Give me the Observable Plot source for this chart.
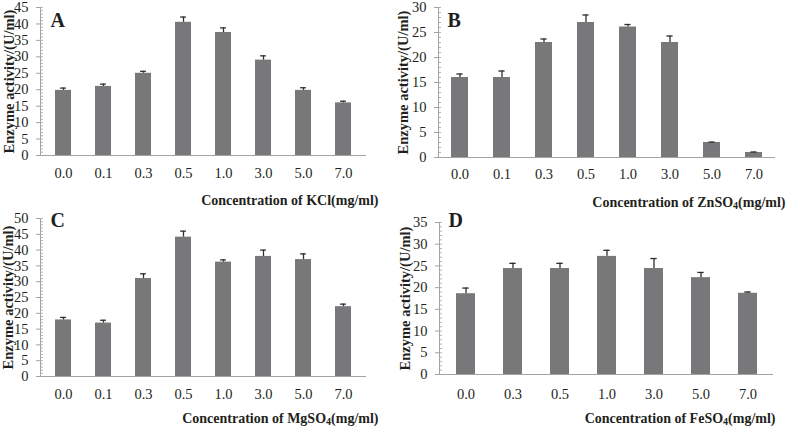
<!DOCTYPE html>
<html>
<head>
<meta charset="utf-8">
<script src="https://cdn.jsdelivr.net/npm/d3@7"></script>
<script src="https://cdn.jsdelivr.net/npm/@observablehq/plot@0.6"></script>
<style>
  html, body { margin: 0; padding: 0; background: #fff; }
  #wrap { position: relative; width: 787px; height: 428px; overflow: hidden; }
  .panel { position: absolute; }
  .panel svg { overflow: visible; }
</style>
</head>
<body>
<div id="wrap"></div>
<script>
// ---- data ----
const catsA = ["0.0", "0.1", "0.3", "0.5", "1.0", "3.0", "5.0", "7.0"];
const kclMean = [19.8, 21.0, 25.0, 40.5, 37.4, 29.0, 19.8, 16.0];
const kclErr  = [0.7, 0.7, 0.6, 1.6, 1.4, 1.3, 0.8, 0.5];

const catsB = ["0.0", "0.1", "0.3", "0.5", "1.0", "3.0", "5.0", "7.0"];
const znMean = [16.0, 16.0, 23.0, 27.0, 26.1, 23.0, 3.0, 1.0];
const znErr  = [0.7, 1.3, 0.7, 1.5, 0.5, 1.3, 0.08, 0.1];

const catsC = ["0.0", "0.1", "0.3", "0.5", "1.0", "3.0", "5.0", "7.0"];
const mgMean = [17.9, 16.9, 31.0, 44.1, 36.2, 38.0, 37.0, 22.1];
const mgErr  = [0.8, 0.9, 1.5, 1.9, 0.7, 2.0, 1.8, 0.8];

const catsD = ["0.0", "0.3", "0.5", "1.0", "3.0", "5.0", "7.0"];
const feMean = [18.6, 24.4, 24.4, 27.2, 24.4, 22.3, 18.7];
const feErr  = [1.3, 1.2, 1.2, 1.4, 2.3, 1.2, 0.3];

const yMaxA = 45, yMaxB = 30, yMaxC = 50, yMaxD = 35;
const yTitle = "Enzyme activity/(U/ml)";

// ---- styles ----
const barColor = "#78787b";
const axisColor = "#a3a3a3";
const inkColor = "#231f20";
const errColor = "#2e2e2e";
const serif = "'Liberation Serif', 'Times New Roman', serif";

function panel(cfg) {
  const rows = cfg.cats.map((c, i) => ({c, v: cfg.mean[i], hi: cfg.mean[i] + cfg.err[i]}));
  const n = cfg.cats.length;
  const pi = cfg.padIn, po = cfg.padIn / 2;
  const step = (cfg.width - cfg.ml - cfg.mr) / (n - pi + 2 * po);
  const bw = step * (1 - pi);
  const capInset = Math.max(0, (bw - 6.5) / 2);
  const fullTitle = cfg.xPre + cfg.xSub + cfg.xPost;

  const chart = Plot.plot({
    width: cfg.width,
    height: cfg.height,
    marginLeft: cfg.ml,
    marginRight: cfg.mr,
    marginTop: cfg.mt,
    marginBottom: cfg.mb,
    style: {fontFamily: serif, fontSize: "14.5px", color: inkColor, background: "transparent", overflow: "visible"},
    x: {domain: cfg.cats, paddingInner: pi, paddingOuter: po, label: null},
    y: {domain: [0, cfg.yMax], label: null},
    marks: [
      Plot.barY(rows, {x: "c", y: "v", fill: barColor}),
      Plot.ruleX(rows, {x: "c", y1: "v", y2: "hi", stroke: errColor, strokeWidth: 1.3}),
      Plot.tickY(rows, {x: "c", y: "hi", stroke: errColor, strokeWidth: 1.3, inset: capInset}),
      Plot.frame({anchor: "left", stroke: axisColor}),
      Plot.ruleY([0], {stroke: axisColor}),
      Plot.axisY({ticks: d3.range(0, cfg.yMax + 1, 5), tickSize: 4, text: null, stroke: axisColor}),
      Plot.axisY({ticks: d3.range(0, cfg.yMax + 1, 1), tickSize: 3, insetLeft: 3, text: null, stroke: axisColor, strokeWidth: 0.8}),
      Plot.axisY({ticks: d3.range(0, cfg.yMax + 1, 5), tickSize: 0, tickPadding: 12, fill: inkColor, fontSize: 14.5, tickFormat: d => String(d)}),
      Plot.axisX({tickSize: 0, tickPadding: cfg.xPad, fill: inkColor, fontSize: 14.5}),
      Plot.text([cfg.letter], {frameAnchor: "top-left", textAnchor: "start", lineAnchor: "top", dx: cfg.letterDx, dy: cfg.letterDy, fontSize: 20, fontWeight: "bold", fill: inkColor}),
      Plot.text([yTitle], {frameAnchor: "left", rotate: -90, textAnchor: "middle", lineAnchor: "middle", dx: cfg.ytDx, fontSize: 14.5, fontWeight: "bold", fill: inkColor}),
      Plot.text([fullTitle], {frameAnchor: "bottom-right", textAnchor: "end", lineAnchor: "middle", dx: cfg.xtDx, dy: cfg.xtDy, fontSize: 14, fontWeight: "bold", fill: inkColor})
    ]
  });

  if (cfg.xSub) {
    chart.querySelectorAll("text").forEach(t => {
      if (t.textContent === fullTitle) {
        t.textContent = "";
        const ns = "http://www.w3.org/2000/svg";
        const a = document.createElementNS(ns, "tspan"); a.textContent = cfg.xPre;
        const b = document.createElementNS(ns, "tspan"); b.textContent = cfg.xSub;
        b.setAttribute("dy", "2.5"); b.setAttribute("font-size", "10");
        const c = document.createElementNS(ns, "tspan"); c.textContent = cfg.xPost;
        c.setAttribute("dy", "-2.5");
        t.append(a, b, c);
      }
    });
  }

  const div = document.createElement("div");
  div.className = "panel";
  div.style.left = cfg.left + "px";
  div.style.top = cfg.top + "px";
  div.appendChild(chart);
  document.getElementById("wrap").appendChild(div);
}

panel({cats: catsA, mean: kclMean, err: kclErr, yMax: yMaxA, letter: "A",
  xPre: "Concentration of KCl(mg/ml)", xSub: "", xPost: "",
  left: 0, top: 0, width: 390, height: 210, ml: 40, mr: 24, mt: 7, mb: 55, padIn: 0.59,
  xPad: 12, letterDx: 10, letterDy: 5, ytDx: -31, xtDx: 12, xtDy: 45});

panel({cats: catsB, mean: znMean, err: znErr, yMax: yMaxB, letter: "B",
  xPre: "Concentration of ZnSO", xSub: "4", xPost: "(mg/ml)",
  left: 395, top: 0, width: 392, height: 210, ml: 43, mr: 12, mt: 7, mb: 53, padIn: 0.59,
  xPad: 11, letterDx: 9, letterDy: 5, ytDx: -35.5, xtDx: 10, xtDy: 45});

panel({cats: catsC, mean: mgMean, err: mgErr, yMax: yMaxC, letter: "C",
  xPre: "Concentration of MgSO", xSub: "4", xPost: "(mg/ml)",
  left: 0, top: 210, width: 390, height: 218, ml: 40, mr: 24, mt: 8, mb: 52, padIn: 0.59,
  xPad: 12, letterDx: 10, letterDy: -6, ytDx: -32, xtDx: 12, xtDy: 42});

panel({cats: catsD, mean: feMean, err: feErr, yMax: yMaxD, letter: "D",
  xPre: "Concentration of FeSO", xSub: "4", xPost: "(mg/ml)",
  left: 395, top: 210, width: 392, height: 218, ml: 44, mr: 14, mt: 12, mb: 54, padIn: 0.6,
  xPad: 14, letterDx: 9, letterDy: -10, ytDx: -34, xtDx: 2, xtDy: 44});
</script>
</body>
</html>
